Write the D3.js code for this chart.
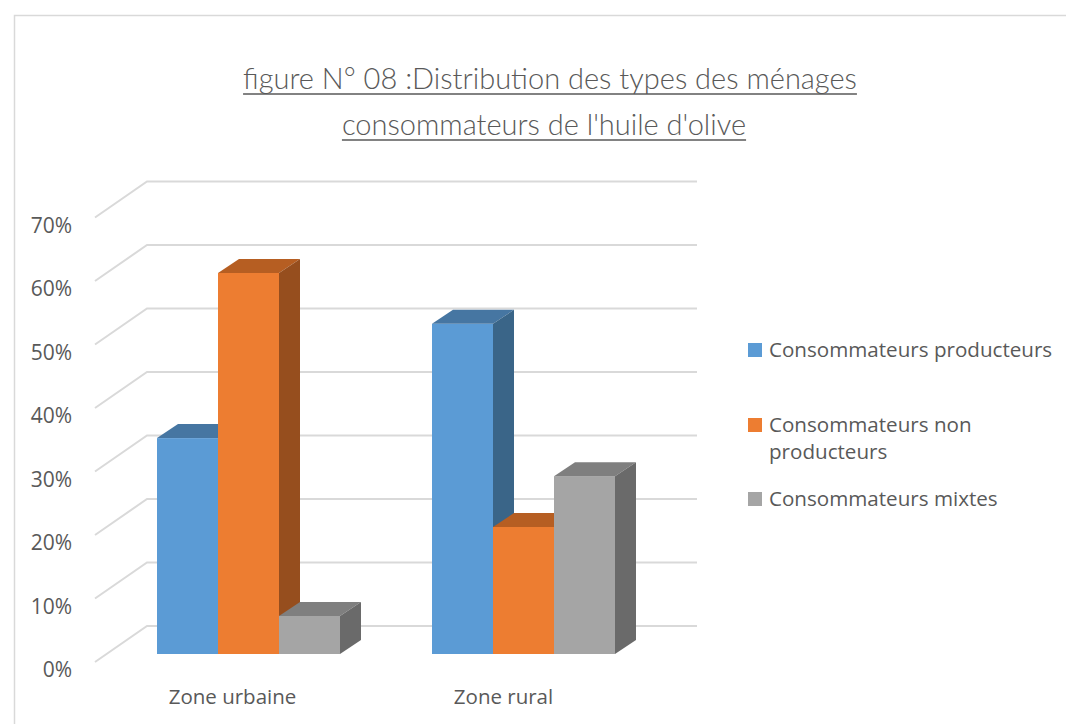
<!DOCTYPE html>
<html><head><meta charset="utf-8">
<script src="https://cdn.jsdelivr.net/npm/d3@7"></script>
<style>
html,body{margin:0;padding:0;background:#fff;}
svg{display:block;}
</style></head>
<body>
<svg id="chart" width="1066" height="724"></svg>
<script>
const categories = ["Zone urbaine", "Zone rural"];
const seriesNames = ["Consommateurs producteurs", "Consommateurs non producteurs", "Consommateurs mixtes"];
const producteurs = [0.34, 0.52];
const nonProducteurs = [0.60, 0.20];
const mixtes = [0.06, 0.28];
const tickValues = [0, 0.1, 0.2, 0.3, 0.4, 0.5, 0.6, 0.7];
const titleLines = ["figure N° 08 :Distribution des types des ménages", "consommateurs de l'huile d'olive"];
const legendLines = [["Consommateurs producteurs"], ["Consommateurs non", "producteurs"], ["Consommateurs mixtes"]];

const seriesValues = [producteurs, nonProducteurs, mixtes];
const faceColors = ["#5B9BD5", "#ED7D31", "#A5A5A5"];
const topColors = ["#4676A2", "#B65E22", "#7F7F7F"];
const sideColors = ["#3A6588", "#964E1E", "#6A6A6A"];

const svg = d3.select("#chart");
const font = "'Open Sans', sans-serif";
const titleFont = "Lato, sans-serif";
const textColor = "#595959";

// frame
svg.append("rect").attr("x", 14.5).attr("y", 15.5).attr("width", 1100).attr("height", 800)
  .attr("fill", "none").attr("stroke", "#d9d9d9").attr("stroke-width", 1.5);

// Title
const title = svg.append("text").attr("font-family", titleFont).attr("font-weight", 300)
  .attr("font-size", 29).attr("fill", textColor).attr("text-anchor", "middle");
title.append("tspan").attr("x", 550).attr("y", 89).text(titleLines[0]);
title.append("tspan").attr("x", 544).attr("y", 135).text(titleLines[1]);
title.selectAll("tspan").each(function(){
  const bb = this.getBBox();
  const yb = +d3.select(this).attr("y") + 5;
  svg.append("line").attr("x1", bb.x).attr("x2", bb.x + bb.width)
    .attr("y1", yb).attr("y2", yb).attr("stroke", textColor).attr("stroke-width", 1.5);
});

// 3D geometry
const depth = {dx: 52, dy: -36};
const y = d3.scaleLinear().domain([0, 0.7]).range([662, 217.5]);
const x = d3.scaleBand().domain(categories).range([95, 645]);
const xs = d3.scaleBand().domain(seriesNames).range([0, 183]);
const barFront = {dx: 16, dy: -8};
const barDepth = {dx: 21, dy: -14};

// gridlines
const grid = svg.append("g").attr("stroke", "#d9d9d9").attr("stroke-width", 2).attr("fill", "none");
tickValues.forEach(v => {
  const yf = y(v), yb = y(v) + depth.dy;
  grid.append("polyline").attr("points",
    [[x.range()[0], yf], [x.range()[0] + depth.dx, yb], [x.range()[1] + depth.dx, yb]].map(p => p.join(",")).join(" "));
});

// y tick labels
svg.append("g").selectAll("text").data(tickValues).join("text")
  .attr("x", 72).attr("y", d => y(d) + 8).attr("dy", "0.35em")
  .attr("text-anchor", "end").attr("font-family", font).attr("font-size", 21).attr("fill", textColor)
  .text(d => d3.format(".0%")(d));

// bars
const bars = svg.append("g");
categories.forEach((cat, ci) => {
  seriesNames.forEach((s, si) => {
    const v = seriesValues[si][ci];
    const bw = xs.bandwidth();
    const x0 = x(cat) + (x.bandwidth() - 183) / 2 + xs(s) + barFront.dx;
    const x1 = x0 + bw;
    const yb = y(0) + barFront.dy;
    const yt = y(v) + barFront.dy;
    const g = bars.append("g");
    g.append("rect").attr("x", x0).attr("y", yt).attr("width", bw).attr("height", yb - yt).attr("fill", faceColors[si]);
    g.append("polygon").attr("points", [[x0, yt], [x0 + barDepth.dx, yt + barDepth.dy], [x1 + barDepth.dx, yt + barDepth.dy], [x1, yt]].map(p => p.join(",")).join(" "))
      .attr("fill", topColors[si]);
    g.append("polygon").attr("points", [[x1, yt], [x1 + barDepth.dx, yt + barDepth.dy], [x1 + barDepth.dx, yb + barDepth.dy], [x1, yb]].map(p => p.join(",")).join(" "))
      .attr("fill", sideColors[si]);
  });
});

// category labels
svg.append("g").selectAll("text").data(categories).join("text")
  .attr("x", (d, i) => x(d) + x.bandwidth() / 2 - i * 4).attr("y", 697).attr("dy", "0.35em")
  .attr("text-anchor", "middle").attr("font-family", font).attr("font-size", 20.5).attr("fill", textColor)
  .text(d => d);

// legend
const legendY = [350, 425, 499];
const leg = svg.append("g");
seriesNames.forEach((s, i) => {
  leg.append("rect").attr("x", 748).attr("y", legendY[i] - 7).attr("width", 14).attr("height", 14).attr("fill", faceColors[i]);
  legendLines[i].forEach((line, li) => {
    leg.append("text").attr("x", 769).attr("y", legendY[i] + li * 27).attr("dy", "0.35em")
      .attr("font-family", font).attr("font-size", 20.6).attr("fill", textColor).text(line);
  });
});
</script>
</body></html>
